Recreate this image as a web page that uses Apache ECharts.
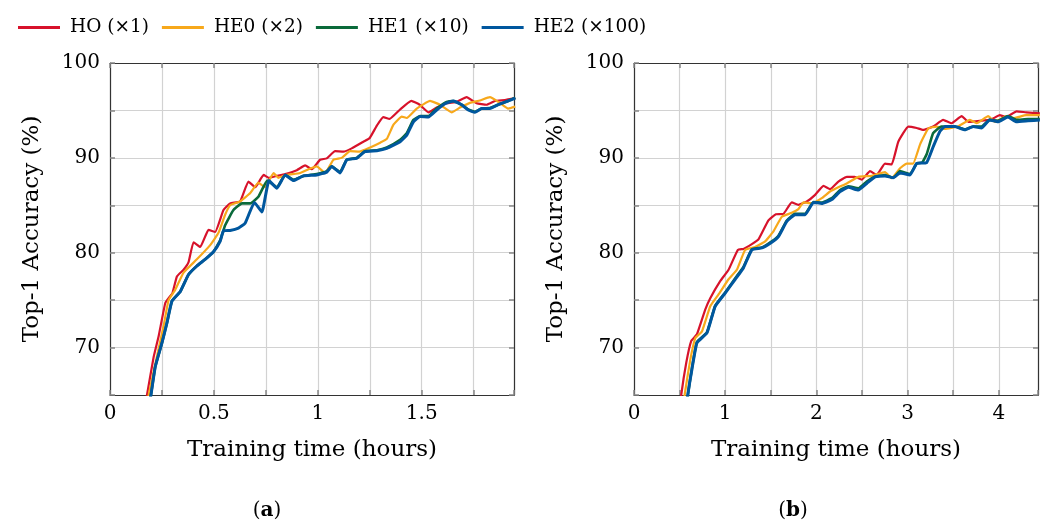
<!DOCTYPE html>
<html>
<head>
<meta charset="utf-8">
<title>Top-1 Accuracy vs training time</title>
<script src="https://cdn.jsdelivr.net/npm/echarts@6/dist/echarts.min.js"></script>
<style>
  html, body { margin: 0; padding: 0; background: #fff; }
  #main { width: 1045px; height: 522px; }
</style>
</head>
<body>
<div id="main"></div>
<script>
// series names and colours
var names = ['HO (×1)', 'HE0 (×2)', 'HE1 (×10)', 'HE2 (×100)'];
var colors = ['#d7122b', '#f7a81b', '#0a6a3a', '#00579e'];
var widths = [2.2, 2.2, 2.6, 3];

// (a) training time (hours), accuracy (%)
var hoA = [[0.16,63],[0.178,65],[0.21,69.0],[0.234,71.2],[0.266,74.7],[0.285,75.3],[0.3,75.7],[0.322,77.5],[0.354,78.2],[0.378,79.0],[0.402,81.1],[0.434,80.6],[0.474,82.4],[0.506,82.2],[0.546,84.5],[0.578,85.2],[0.626,85.4],[0.666,87.5],[0.699,86.9],[0.739,88.2],[0.763,87.9],[0.803,88.1],[0.843,88.3],[0.899,88.7],[0.939,89.2],[0.971,88.8],[1.011,89.8],[1.043,89.95],[1.083,90.7],[1.123,90.65],[1.163,91.0],[1.219,91.7],[1.25,92.1],[1.284,93.4],[1.315,94.3],[1.345,94.1],[1.396,95.1],[1.45,96.0],[1.49,95.6],[1.532,94.8],[1.572,95.3],[1.62,95.75],[1.668,95.9],[1.716,96.4],[1.764,95.75],[1.812,95.6],[1.852,96.0],[1.9,96.1],[1.95,96.3]];
var he0A = [[0.17,63],[0.186,65],[0.226,69.1],[0.258,72.3],[0.282,75.0],[0.314,76.1],[0.354,77.9],[0.418,79.3],[0.482,80.8],[0.522,82.1],[0.554,84.0],[0.578,85.0],[0.626,85.4],[0.675,86.3],[0.714,87.4],[0.745,86.9],[0.787,88.4],[0.81,87.9],[0.85,88.2],[0.915,88.4],[0.955,88.8],[0.995,89.1],[1.035,88.4],[1.075,89.8],[1.115,90.0],[1.155,90.7],[1.2,90.65],[1.252,91.1],[1.3,91.6],[1.332,92.0],[1.364,93.5],[1.404,94.35],[1.428,94.2],[1.476,95.2],[1.54,96.0],[1.588,95.6],[1.644,94.8],[1.684,95.3],[1.732,95.8],[1.78,96.05],[1.828,96.4],[1.876,95.8],[1.916,95.2],[1.95,95.4]];
var he1A = [[0.18,63],[0.197,65],[0.218,68.0],[0.25,70.5],[0.274,72.6],[0.298,74.9],[0.338,75.9],[0.378,77.7],[0.418,78.6],[0.458,79.3],[0.498,80.1],[0.53,81.3],[0.554,82.9],[0.594,84.5],[0.635,85.2],[0.675,85.2],[0.714,85.9],[0.757,87.6],[0.803,86.9],[0.843,88.2],[0.883,87.7],[0.931,88.1],[0.995,88.3],[1.043,88.6],[1.067,89.1],[1.107,88.5],[1.139,89.8],[1.187,90.0],[1.227,90.7],[1.284,90.8],[1.332,91.1],[1.396,91.9],[1.428,92.6],[1.46,94.0],[1.492,94.4],[1.532,94.4],[1.572,95.2],[1.62,95.9],[1.652,96.0],[1.692,95.6],[1.724,95.1],[1.756,94.85],[1.788,95.2],[1.828,95.25],[1.868,95.6],[1.916,96.0],[1.95,96.35]];
var he2A = [[0.18,63],[0.197,65],[0.218,68.0],[0.25,70.5],[0.274,72.6],[0.298,74.9],[0.338,75.9],[0.378,77.7],[0.418,78.6],[0.458,79.3],[0.498,80.1],[0.53,81.2],[0.546,82.3],[0.578,82.35],[0.618,82.6],[0.65,83.1],[0.695,85.3],[0.731,84.3],[0.765,87.6],[0.803,86.8],[0.843,88.2],[0.883,87.6],[0.931,88.1],[0.995,88.2],[1.043,88.5],[1.067,89.1],[1.107,88.4],[1.139,89.8],[1.187,89.95],[1.227,90.65],[1.284,90.75],[1.332,91.0],[1.396,91.7],[1.428,92.4],[1.46,93.8],[1.492,94.35],[1.532,94.3],[1.572,95.05],[1.612,95.7],[1.652,96.0],[1.692,95.6],[1.724,95.05],[1.756,94.8],[1.788,95.2],[1.828,95.2],[1.868,95.6],[1.916,96.0],[1.95,96.3]];

// (b)
var hoB = [[0.5,63],[0.518,65],[0.573,68.4],[0.628,70.7],[0.69,71.4],[0.781,74.0],[0.836,75.2],[0.945,77.0],[1.037,78.2],[1.139,80.3],[1.2,80.4],[1.292,80.9],[1.365,81.4],[1.474,83.4],[1.556,84.05],[1.639,84.1],[1.73,85.3],[1.803,85.05],[1.895,85.4],[1.986,86.1],[2.077,87.05],[2.15,86.7],[2.241,87.5],[2.333,88.0],[2.42,88.0],[2.497,87.7],[2.588,88.6],[2.661,88.2],[2.752,89.4],[2.825,89.3],[2.898,91.7],[3.008,93.3],[3.1,93.15],[3.17,92.95],[3.28,93.3],[3.39,94.0],[3.48,93.65],[3.593,94.4],[3.665,93.8],[3.79,93.9],[3.92,94.07],[4.01,94.5],[4.08,94.3],[4.195,94.9],[4.3,94.8],[4.45,94.7]];
var he0B = [[0.535,63],[0.555,65],[0.617,68.7],[0.672,71.0],[0.745,71.7],[0.836,74.35],[0.927,75.6],[1.037,77.2],[1.128,78.2],[1.219,80.3],[1.329,80.6],[1.438,81.2],[1.529,82.25],[1.621,83.8],[1.73,84.2],[1.803,84.6],[1.858,85.3],[1.95,85.2],[2.059,85.75],[2.15,86.45],[2.241,86.9],[2.333,87.3],[2.46,88.0],[2.607,88.1],[2.752,88.5],[2.825,87.85],[2.917,88.9],[2.99,89.4],[3.06,89.4],[3.136,91.4],[3.227,93.1],[3.318,93.3],[3.41,93.05],[3.55,93.3],[3.683,94.0],[3.757,93.65],[3.884,94.4],[3.957,93.8],[4.085,94.4],[4.17,94.2],[4.3,94.5],[4.45,94.5]];
var he1B = [[0.57,63],[0.59,65],[0.635,67.8],[0.69,70.6],[0.8,71.6],[0.89,74.4],[1.0,75.8],[1.11,77.3],[1.2,78.5],[1.292,80.35],[1.402,80.55],[1.511,81.2],[1.584,81.8],[1.676,83.4],[1.767,84.1],[1.876,84.1],[1.967,85.35],[2.059,85.3],[2.169,85.75],[2.26,86.6],[2.35,87.0],[2.46,86.8],[2.552,87.5],[2.643,88.0],[2.752,88.2],[2.843,87.9],[2.917,88.6],[3.026,88.3],[3.1,89.4],[3.16,89.5],[3.21,90.4],[3.28,92.6],[3.37,93.3],[3.52,93.3],[3.63,93.0],[3.72,93.3],[3.81,93.3],[3.9,94.0],[3.99,93.9],[4.1,94.4],[4.195,94.0],[4.32,94.1],[4.45,94.1]];
var he2B = [[0.57,63],[0.59,65],[0.635,67.7],[0.69,70.5],[0.8,71.55],[0.89,74.35],[1.0,75.75],[1.11,77.2],[1.2,78.4],[1.292,80.3],[1.402,80.5],[1.511,81.1],[1.584,81.7],[1.676,83.3],[1.767,84.0],[1.876,84.0],[1.967,85.3],[2.059,85.2],[2.169,85.6],[2.26,86.45],[2.35,86.9],[2.46,86.6],[2.552,87.3],[2.643,88.0],[2.752,88.1],[2.843,87.9],[2.917,88.4],[3.026,88.2],[3.1,89.4],[3.209,89.5],[3.282,91.2],[3.355,92.8],[3.41,93.3],[3.52,93.3],[3.63,92.95],[3.72,93.3],[3.81,93.15],[3.9,94.0],[3.99,93.8],[4.1,94.3],[4.195,93.8],[4.32,93.9],[4.45,94.0]];

// axis ranges
var xMaxA = 1.944, xMaxB = 4.43;
var yMin = 65, yMax = 100;

var font = 'DejaVu Serif';
var myChart = echarts.init(document.getElementById('main'));

// one axis (bottom/top or left/right) for a grid
function makeX(grid, max, step, pos, labelStep) {
	return {
		type: 'value', gridIndex: grid, position: pos, min: 0, max: max, interval: step,
		name: pos == 'bottom' ? 'Training time (hours)' : '',
		nameLocation: 'middle', nameGap: 44,
		nameTextStyle: { fontFamily: font, fontSize: 23, color: '#000' },
		axisLine: { show: true, onZero: false, lineStyle: { color: '#333', width: 1.2 } },
		axisTick: { show: true, inside: true, length: 5, lineStyle: { color: '#888', width: 1.5 } },
		splitLine: { show: pos == 'bottom', lineStyle: { color: '#d2d2d2', width: 1.2 } },
		axisLabel: {
			show: pos == 'bottom', margin: 9, fontFamily: font, fontSize: 20, color: '#000',
			showMaxLabel: true,
			formatter: function (v) {
				var k = v / labelStep;
				return Math.abs(k - Math.round(k)) < 1e-6 ? String(v) : '';
			}
		}
	};
}
function makeY(grid, pos) {
	return {
		type: 'value', gridIndex: grid, position: pos, min: yMin, max: yMax, interval: 5,
		name: pos == 'left' ? 'Top-1 Accuracy (%)' : '',
		nameLocation: 'middle', nameGap: 66,
		nameTextStyle: { fontFamily: font, fontSize: 23, color: '#000' },
		axisLine: { show: true, onZero: false, lineStyle: { color: '#333', width: 1.2 } },
		axisTick: { show: true, inside: true, length: 5, lineStyle: { color: '#888', width: 1.5 } },
		splitLine: { show: pos == 'left', lineStyle: { color: '#d2d2d2', width: 1.2 } },
		axisLabel: {
			show: pos == 'left', margin: 10, fontFamily: font, fontSize: 20, color: '#000',
			formatter: function (v) { return v % 10 == 0 ? String(v) : ''; }
		}
	};
}

function line(name, data, i, xi, yi) {
	return {
		name: name, type: 'line', xAxisIndex: xi, yAxisIndex: yi,
		data: data, showSymbol: false, symbol: 'none', smooth: 0.12,
		clip: true, z: 2 + i,
		lineStyle: { color: colors[i], width: widths[i], join: 'round' },
		itemStyle: { color: colors[i] }
	};
}

var option = {
	animation: false,
	backgroundColor: '#fff',
	legend: {
		left: 13, top: 13,
		icon: 'rect', itemWidth: 42, itemHeight: 3, itemGap: 13,
		textStyle: { fontFamily: font, fontSize: 18.5, color: '#000', padding: [0, 0, 0, 5] },
		data: names
	},
	grid: [
		{ left: 110, top: 63, width: 404, height: 332 },
		{ left: 634, top: 63, width: 404, height: 332 }
	],
	xAxis: [
		makeX(0, xMaxA, 0.25, 'bottom', 0.5),
		makeX(0, xMaxA, 0.25, 'top', 0.5),
		makeX(1, xMaxB, 0.5, 'bottom', 1),
		makeX(1, xMaxB, 0.5, 'top', 1)
	],
	yAxis: [
		makeY(0, 'left'), makeY(0, 'right'),
		makeY(1, 'left'), makeY(1, 'right')
	],
	graphic: [
		{ type: 'text', x: 267, y: 511, style: { text: '({b|a})', fontFamily: font, fontSize: 20, fill: '#000', textAlign: 'center', textVerticalAlign: 'middle', rich: { b: { fontFamily: font, fontSize: 20, fontWeight: 'bold', fill: '#000' } } } },
		{ type: 'text', x: 793, y: 511, style: { text: '({b|b})', fontFamily: font, fontSize: 20, fill: '#000', textAlign: 'center', textVerticalAlign: 'middle', rich: { b: { fontFamily: font, fontSize: 20, fontWeight: 'bold', fill: '#000' } } } }
	],
	series: [
		line(names[0], hoA, 0, 0, 0),
		line(names[1], he0A, 1, 0, 0),
		line(names[2], he1A, 2, 0, 0),
		line(names[3], he2A, 3, 0, 0),
		line(names[0], hoB, 0, 2, 2),
		line(names[1], he0B, 1, 2, 2),
		line(names[2], he1B, 2, 2, 2),
		line(names[3], he2B, 3, 2, 2)
	]
};

myChart.setOption(option);
</script>
</body>
</html>
